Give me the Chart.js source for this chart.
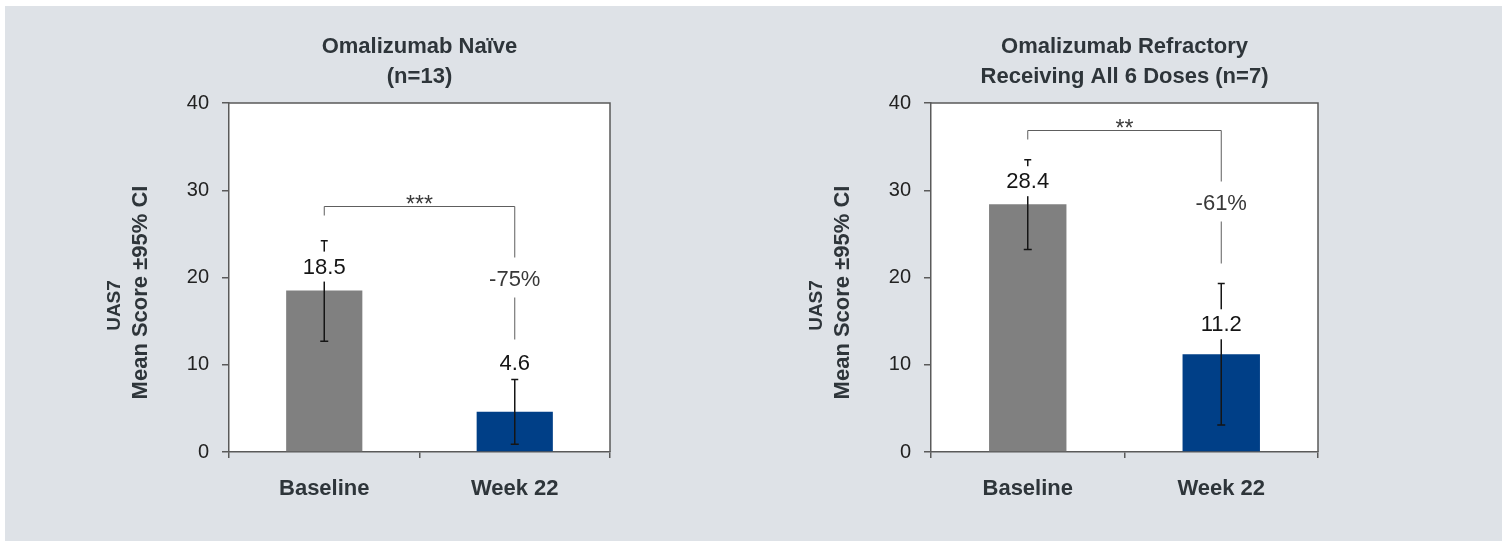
<!DOCTYPE html>
<html>
<head>
<meta charset="utf-8">
<title>UAS7 mean score</title>
<script src="https://cdn.jsdelivr.net/npm/chart.js@4.4.1/dist/chart.umd.min.js"></script>
<style>
  html, body { margin: 0; padding: 0; background: #fff; overflow: hidden; }
  #panel { position: absolute; left: 5px; top: 6px; width: 1497px; height: 535px; background: #dee2e7; }
  canvas { position: absolute; top: 0; }
</style>
</head>
<body>
<div id="panel"></div>
<canvas id="naiveChart" width="752" height="541" style="left:0"></canvas>
<canvas id="refractoryChart" width="752" height="541" style="left:752px"></canvas>
<script>
const categories = ['Baseline', 'Week 22'];
const yTicks = [0, 10, 20, 30, 40];

// Omalizumab naive (n=13)
const naiveMeans = [18.5, 4.6];
const naiveLower = [12.7, 0.9];
const naiveUpper = [24.2, 8.3];
const naiveSig = '***';

// Omalizumab refractory, receiving all 6 doses (n=7)
const refractoryMeans = [28.4, 11.2];
const refractoryLower = [23.2, 3.1];
const refractoryUpper = [33.5, 19.3];
const refractorySig = '**';

const FONT = '"Liberation Sans", Arial, Helvetica, sans-serif';
const TEXT = '#2e353a';
const AXIS = '#5a5a5a';

function pctChange(values) {
    return Math.round((values[1] - values[0]) / values[0] * 100) + '%';
}

// error bars, value labels, significance bracket, frame and titles
const annotate = {
    id: 'annotate',
    beforeDraw(chart) {
        const { ctx, chartArea: a } = chart;
        ctx.save();
        ctx.fillStyle = '#fff';
        ctx.fillRect(a.left, a.top, a.right - a.left, a.bottom - a.top);
        ctx.restore();
    },
    afterDatasetsDraw(chart) {
        const o = chart.options.plugins.annotate;
        const { ctx, scales: { x, y } } = chart;
        const means = chart.data.datasets[0].data;
        ctx.save();

        // error bars
        ctx.strokeStyle = '#151515';
        ctx.lineWidth = 1.5;
        means.forEach((m, i) => {
            const cx = x.getPixelForValue(i);
            const lo = y.getPixelForValue(o.lower[i]);
            const hi = y.getPixelForValue(o.upper[i]);
            ctx.beginPath();
            ctx.moveTo(cx, lo); ctx.lineTo(cx, hi);
            ctx.moveTo(cx - 4, lo); ctx.lineTo(cx + 4, lo);
            ctx.moveTo(cx - 3.5, hi); ctx.lineTo(cx + 3.5, hi);
            ctx.stroke();
        });

        // value labels on a white box
        ctx.font = '22px ' + FONT;
        ctx.textAlign = 'center';
        ctx.textBaseline = 'middle';
        means.forEach((m, i) => {
            const cx = x.getPixelForValue(i);
            const cy = y.getPixelForValue(m) - o.labelLift[i];
            const label = m.toFixed(1);
            const w = ctx.measureText(label).width + 6;
            ctx.fillStyle = '#fff';
            ctx.fillRect(cx - w / 2, cy - 15, w, 30);
            ctx.fillStyle = '#151515';
            ctx.fillText(label, cx, cy + 1);
        });

        // significance bracket
        const x0 = x.getPixelForValue(0);
        const x1 = x.getPixelForValue(1);
        const top = Math.round(y.getPixelForValue(o.bracketAt)) + 0.5;
        ctx.strokeStyle = '#5e5e5e';
        ctx.lineWidth = 1;
        ctx.beginPath();
        ctx.moveTo(x0, top + 9); ctx.lineTo(x0, top);
        ctx.lineTo(x1, top); ctx.lineTo(x1, top + 51);
        ctx.moveTo(x1, top + 91); ctx.lineTo(x1, top + 133);
        ctx.stroke();

        ctx.fillStyle = '#383838';
        ctx.font = '22px ' + FONT;
        ctx.fillText(pctChange(means), x1, top + 73);

        ctx.font = '23px ' + FONT;
        ctx.textBaseline = 'alphabetic';
        ctx.fillStyle = '#3a3a3a';
        ctx.fillText(o.sig, (x0 + x1) / 2, top + 5);
        ctx.restore();
    },
    afterDraw(chart) {
        const o = chart.options.plugins.annotate;
        const { ctx, chartArea: a } = chart;
        ctx.save();

        // top and right edges of the plot box
        ctx.strokeStyle = AXIS;
        ctx.lineWidth = 1.5;
        ctx.beginPath();
        ctx.moveTo(a.left, a.top); ctx.lineTo(a.right, a.top); ctx.lineTo(a.right, a.bottom);
        ctx.stroke();

        // panel title
        ctx.fillStyle = TEXT;
        ctx.font = 'bold 22px ' + FONT;
        ctx.textAlign = 'center';
        ctx.textBaseline = 'middle';
        const mid = (a.left + a.right) / 2;
        o.title.forEach((line, i) => ctx.fillText(line, mid, 47 + i * 30));

        // y axis title
        const cy = (a.top + a.bottom) / 2;
        ctx.translate(a.left - 114, cy);
        ctx.rotate(-Math.PI / 2);
        ctx.font = 'bold 19px ' + FONT;
        ctx.fillText('UAS7', -28, 0);
        ctx.font = 'bold 22px ' + FONT;
        ctx.fillText('Mean Score \u00b195% CI', -15, 26);
        ctx.restore();
    }
};

function makeChart(id, means, lower, upper, sig, title, pad, labelLift, bracketAt) {
    return new Chart(document.getElementById(id), {
        type: 'bar',
        data: {
            labels: categories,
            datasets: [{
                data: means,
                backgroundColor: ['#808080', '#003f87'],
                borderWidth: 0,
                barPercentage: 0.4,
                categoryPercentage: 1.0
            }]
        },
        options: {
            responsive: false,
            animation: false,
            devicePixelRatio: 1,
            layout: { padding: pad },
            plugins: {
                legend: { display: false },
                tooltip: { enabled: false },
                annotate: { lower, upper, sig, title, labelLift, bracketAt }
            },
            scales: {
                x: {
                    afterFit: s => { s.height = 89; },
                    grid: { offset: true, drawOnChartArea: false, drawTicks: true, tickLength: 6, color: AXIS, lineWidth: 1.5 },
                    border: { display: true, color: AXIS, width: 1.5 },
                    ticks: { color: TEXT, padding: 18, font: { family: FONT, size: 22, weight: 'bold' } }
                },
                y: {
                    min: 0,
                    max: 40,
                    afterFit: s => { s.width = 79; },
                    afterBuildTicks: s => { s.ticks = yTicks.map(v => ({ value: v })); },
                    grid: { drawOnChartArea: false, drawTicks: true, tickLength: 7, color: AXIS, lineWidth: 1.5 },
                    border: { display: true, color: AXIS, width: 1.5 },
                    ticks: { color: '#222', padding: 13, font: { family: FONT, size: 20 } }
                }
            }
        },
        plugins: [annotate]
    });
}

makeChart('naiveChart', naiveMeans, naiveLower, naiveUpper, naiveSig,
    ['Omalizumab Na\u00efve', '(n=13)'],
    { left: 150, right: 142, top: 103, bottom: 0 }, [24, 49], 28.2);

makeChart('refractoryChart', refractoryMeans, refractoryLower, refractoryUpper, refractorySig,
    ['Omalizumab Refractory', 'Receiving All 6 Doses (n=7)'],
    { left: 100, right: 186, top: 103, bottom: 0 }, [23, 30], 36.9);
</script>
</body>
</html>
